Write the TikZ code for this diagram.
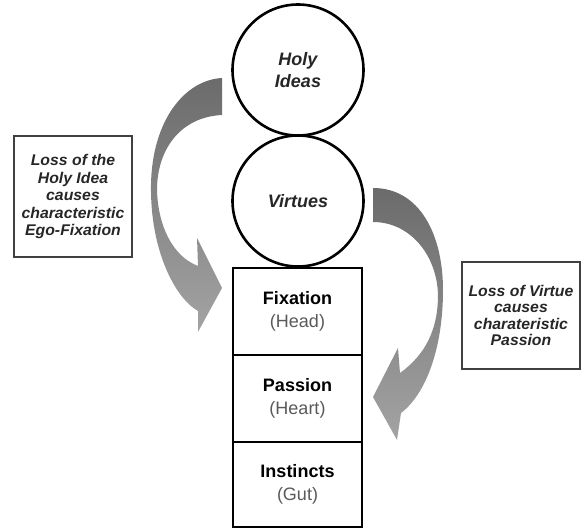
\documentclass[tikz,border=0pt]{standalone}
\usepackage{fontspec}
\setmainfont{Liberation Sans}
\newfontfamily\sidefont[FakeStretch=1.02]{Liberation Sans}
\begin{document}
\begin{tikzpicture}[x=1pt,y=-1pt,
  ring/.style={draw=black,line width=2.6pt,circle,minimum size=131pt,inner sep=0pt,
    font=\fontsize{18}{22}\selectfont\bfseries\itshape,text=black!85,align=center},
  part/.style={draw=black,line width=2.6pt,rectangle,minimum width=129pt,inner sep=0pt,
    align=center,font=\fontsize{18}{23.5}\selectfont},
  note/.style={draw=black!75,line width=1.6pt,rectangle,minimum width=118pt,inner sep=0pt,
    align=center,text=black!85},
  ribbon/.style={top color=black!58,bottom color=black!36,draw=none}]
\useasboundingbox (0,0) rectangle (582,529);
% curved arrows
\shade[ribbon] (222,78) .. controls (185,80) and (152,120) .. (151,185)
  .. controls (150,250) and (175,298) .. (198,311) -- (198,332) -- (222,288) -- (197,238) -- (198,266)
  .. controls (172,256) and (158,225) .. (157,190)
  .. controls (157,150) and (180,117) .. (222,115) -- cycle;
\shade[ribbon] (373,188) .. controls (420,188) and (443,235) .. (443,290)
  .. controls (443,350) and (425,395) .. (401,413) -- (397,440) -- (373,397) -- (398,348) -- (400,373)
  .. controls (425,355) and (438,330) .. (438,295)
  .. controls (437,255) and (410,222) .. (373,222) -- cycle;
% circles
\node[ring] (holy) at (298,70) {Holy\\Ideas};
\node[ring] (virt) at (298,201) {Virtues};
% stacked boxes
\node[part,minimum height=87pt] (fix) at (297.5,311.5) {\textbf{Fixation}\\\textcolor{black!65}{(Head)}};
\node[part,minimum height=87pt] (pas) at (297.5,398.5) {\textbf{Passion}\\\textcolor{black!65}{(Heart)}};
\node[part,minimum height=85pt] (ins) at (297.5,484.5) {\textbf{Instincts}\\\textcolor{black!65}{(Gut)}};
% side notes
\node[note,minimum height=121pt,font=\sidefont\fontsize{15.5}{17.5}\selectfont\bfseries\itshape] (lnote) at (73,196.5)
  {Loss of the\\Holy Idea\\causes\\characteristic\\Ego-Fixation};
\node[note,minimum height=107pt,font=\sidefont\fontsize{15.5}{16.5}\selectfont\bfseries\itshape] (rnote) at (521,315.5)
  {Loss of Virtue\\causes\\charateristic\\Passion};
\end{tikzpicture}
\end{document}
